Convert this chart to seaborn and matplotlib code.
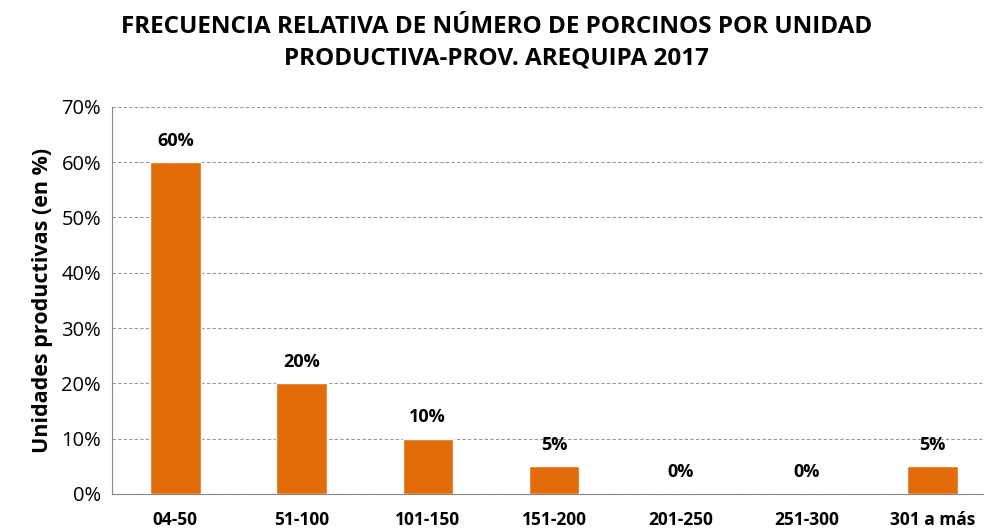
import pandas as pd
import matplotlib.pyplot as plt
import seaborn as sns
from matplotlib.ticker import PercentFormatter

# data
rangos = ["04-50", "51-100", "101-150", "151-200", "201-250", "251-300", "301 a más"]
frecuencia = [60, 20, 10, 5, 0, 0, 5]

df = pd.DataFrame({"Rango": rangos, "Frecuencia": frecuencia})

sns.set_style("white")
plt.rcParams["font.family"] = ["Open Sans", "DejaVu Sans"]
plt.rcParams["text.color"] = "black"
plt.rcParams["xtick.color"] = "black"
plt.rcParams["ytick.color"] = "black"
plt.rcParams["axes.labelcolor"] = "black"

fig = plt.figure(figsize=(9.84, 5.31), dpi=100)
ax = fig.add_axes([0.114, 0.0697, 0.898, 0.729])

sns.barplot(data=df, x="Rango", y="Frecuencia", color="#E36C0A",
            saturation=1, width=0.4, ax=ax, zorder=3)

ax.set_ylim(0, 70)
ax.set_yticks(range(0, 71, 10))
ax.yaxis.set_major_formatter(PercentFormatter(decimals=0))
ax.grid(axis="y", color="#999999", linestyle=(0, (3, 2)), linewidth=0.8, zorder=0)

for s in ["top", "right"]:
    ax.spines[s].set_visible(False)
ax.spines["left"].set_color("#888888")
ax.spines["bottom"].set_color("#888888")

# etiquetas de valor sobre cada barra
for i, v in enumerate(frecuencia):
    ax.annotate(f"{v}%", (i, v), xytext=(0, 9), textcoords="offset points",
                ha="center", va="bottom", fontsize=13, fontweight="bold")

ax.tick_params(axis="y", labelsize=14.5, length=0, pad=8)
ax.tick_params(axis="x", labelsize=12.5, length=0, pad=12)
for lbl in ax.get_xticklabels():
    lbl.set_fontweight("bold")

ax.set_xlabel("")
ax.set_ylabel("Unidades productivas (en %)", fontsize=15.5, fontweight="bold", labelpad=6)

fig.suptitle("FRECUENCIA RELATIVA DE NÚMERO DE PORCINOS POR UNIDAD\nPRODUCTIVA-PROV. AREQUIPA 2017",
             x=0.505, y=0.972, fontsize=17.5, fontweight="bold", linespacing=1.4)

fig.savefig("out.png", dpi=100)
